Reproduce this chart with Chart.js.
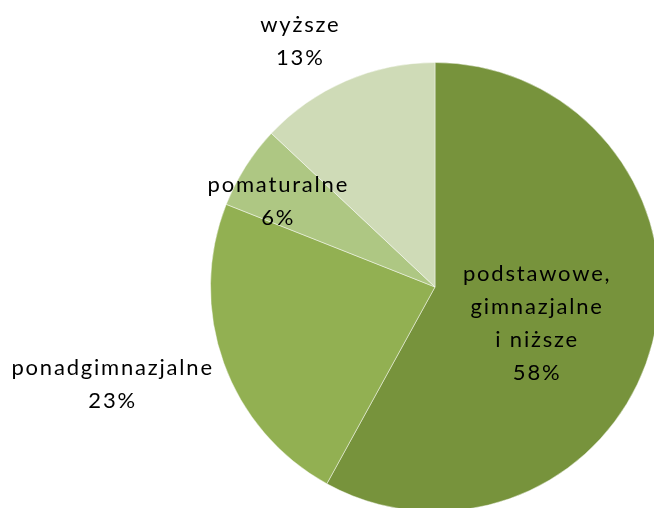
<!DOCTYPE html>
<html>
<head>
<meta charset="utf-8">
<script src="https://cdn.jsdelivr.net/npm/chart.js@4/dist/chart.umd.min.js"></script>
<style>
  html, body { margin: 0; padding: 0; background: #fff; overflow: hidden; }
  #wrap { position: relative; width: 720px; height: 560px; }
</style>
</head>
<body>
<div id="wrap"><canvas id="pie" width="720" height="560"></canvas></div>
<script>
// Education level shares (%)
const categories = ['podstawowe, gimnazjalne i niższe', 'ponadgimnazjalne', 'pomaturalne', 'wyższe'];
const shares = [58, 23, 6, 13];
const sliceColors = ['#77933C', '#92B052', '#AEC783', '#CFDBB7'];

// label text lines and where to put them (offset from centre, in radius units)
const labelLines = [
  ['podstawowe,', 'gimnazjalne', 'i niższe'],
  ['ponadgimnazjalne'],
  ['pomaturalne'],
  ['wyższe']
];
const labelDx = [0.455, -1.436, -0.698, -0.60];
const labelDy = [0.164, 0.436, -0.382, -1.093];

// Excel style data labels: category name + percentage
const pieLabels = {
  id: 'pieLabels',
  afterDatasetsDraw(chart) {
    const ctx = chart.ctx;
    const arcs = chart.getDatasetMeta(0).data;
    ctx.save();
    ctx.font = '22px Lato';
    ctx.letterSpacing = '1.8px';
    ctx.fillStyle = '#000';
    ctx.textAlign = 'center';
    ctx.textBaseline = 'middle';
    const lh = 33;
    arcs.forEach((arc, i) => {
      const r = arc.outerRadius;
      const cx = arc.x + labelDx[i] * r;
      const cy = arc.y + labelDy[i] * r;
      const lines = [...labelLines[i], shares[i] + '%'];
      lines.forEach((t, j) => {
        ctx.fillText(t, cx, cy + (j - (lines.length - 1) / 2) * lh);
      });
    });
    ctx.restore();
  }
};

new Chart(document.getElementById('pie'), {
  type: 'pie',
  data: {
    labels: categories,
    datasets: [{
      data: shares,
      backgroundColor: sliceColors,
      borderColor: 'rgba(255,255,255,0.45)',
      borderWidth: 1,
      hoverOffset: 0,
      offset: 0
    }]
  },
  options: {
    responsive: false,
    animation: false,
    layout: { padding: { left: 210, top: 62, right: 60, bottom: 48 } },
    plugins: {
      legend: { display: false },
      tooltip: { enabled: false }
    }
  },
  plugins: [pieLabels]
});
</script>
</body>
</html>
